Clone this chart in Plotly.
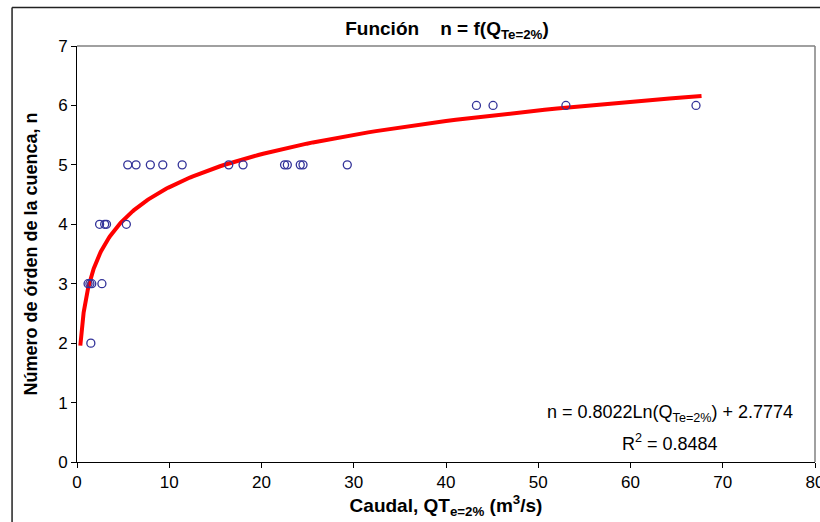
import numpy as np
import plotly.graph_objects as go

# Observed data
caudal = [1.2, 1.4, 1.6, 2.7, 1.5, 2.45, 3.0, 3.2, 5.35,
          5.5, 6.4, 7.95, 9.3, 11.4, 16.45, 18.0, 22.5, 22.8, 24.2, 24.5, 29.3,
          43.3, 45.1, 53.0, 67.1]
orden = [3, 3, 3, 3, 2, 4, 4, 4, 4,
         5, 5, 5, 5, 5, 5, 5, 5, 5, 5, 5, 5,
         6, 6, 6, 6]

# Logarithmic trendline coefficients (as printed on chart)
coef_a = 0.8022
coef_b = 2.7774
trend_q_min = 0.36
trend_q_max = 67.7

x_ticks = [0, 10, 20, 30, 40, 50, 60, 70, 80]
y_ticks = [0, 1, 2, 3, 4, 5, 6, 7]

q_line = np.geomspace(trend_q_min, trend_q_max, 200)
n_line = coef_a * np.log(q_line) + coef_b

font_family = "Arial, Liberation Sans, sans-serif"

fig = go.Figure()
fig.add_trace(go.Scatter(x=q_line, y=n_line, mode="lines",
                         line=dict(color="#ff0000", width=4), hoverinfo="skip"))
fig.add_trace(go.Scatter(x=caudal, y=orden, mode="markers",
                         marker=dict(symbol="circle-open", size=8, color="#333399",
                                     line=dict(width=1.3, color="#333399"))))

fig.update_layout(
    width=820, height=522,
    margin=dict(l=77, r=5, t=46, b=60, autoexpand=False),
    paper_bgcolor="white", plot_bgcolor="white",
    showlegend=False,
    font=dict(family=font_family, size=17, color="black"),
    title=dict(text="<b>Función\u00a0\u00a0\u00a0\u00a0n = f(Q<sub>Te=2%</sub>)</b>",
               x=447 / 820, xanchor="center", y=1 - 28 / 522, yanchor="middle",
               font=dict(size=19, family=font_family, color="black")),
    xaxis=dict(range=[0, 80], tickvals=x_ticks, showgrid=False, zeroline=False,
               showline=True, linecolor="black", linewidth=1,
               ticks="outside", ticklen=5, tickcolor="black",
               tickfont=dict(size=17), automargin=False,
               ticklabeloverflow="allow",
               title=dict(text="<b>Caudal, QT<sub>e=2%</sub> (m<sup>3</sup>/s)</b>",
                          font=dict(size=19), standoff=4)),
    yaxis=dict(range=[0, 7], tickvals=y_ticks, showgrid=False, zeroline=False,
               showline=True, linecolor="black", linewidth=1,
               ticks="outside", ticklen=5, tickcolor="black",
               tickfont=dict(size=17), automargin=False,
               title=dict(text="<b>Número de órden de la cuenca, n</b>",
                          font=dict(size=18), standoff=15)),
)

# plot area border (top and right, gray)
fig.add_shape(type="line", xref="paper", yref="paper", x0=0, x1=1, y0=1, y1=1,
              line=dict(color="#808080", width=1.5))
fig.add_shape(type="line", xref="paper", yref="paper", x0=1, x1=1, y0=0, y1=1,
              line=dict(color="#808080", width=1.5))
# outer chart border (top and left)
fig.add_shape(type="line", xref="paper", yref="paper", x0=-0.088, x1=1.05,
              y0=1.0926, y1=1.0926, line=dict(color="#222222", width=1.5))
fig.add_shape(type="line", xref="paper", yref="paper", x0=-0.088, x1=-0.088,
              y0=-0.2, y1=1.0926, line=dict(color="#222222", width=1.5))

fig.add_annotation(x=64.3, y=0.81, xref="x", yref="y", showarrow=False,
                   text="n = 0.8022Ln(Q<sub>Te=2%</sub>) + 2.7774",
                   font=dict(size=18), xanchor="center", yanchor="middle")
fig.add_annotation(x=64.3, y=0.33, xref="x", yref="y", showarrow=False,
                   text="R<sup>2</sup> = 0.8484",
                   font=dict(size=18), xanchor="center", yanchor="middle")

fig.write_html("out.html", config={"displayModeBar": False},
               post_script="document.body.style.margin='0';document.body.style.overflow='hidden';")
